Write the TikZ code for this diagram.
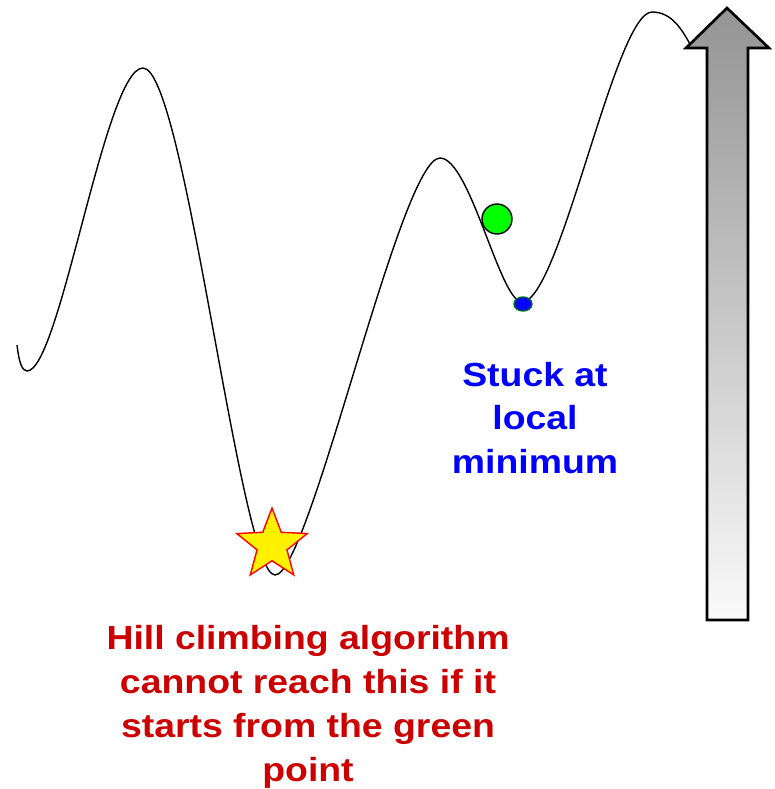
\documentclass[tikz,border=0pt]{standalone}
\usepackage{fontspec}
\newfontfamily\labelfont{Liberation Sans}[FakeStretch=1.12]
\usetikzlibrary{shapes.geometric}
\definecolor{notered}{RGB}{204,0,0}
\definecolor{stuckblue}{RGB}{0,0,255}
\definecolor{ringgreen}{RGB}{0,100,50}

\begin{document}
\begin{tikzpicture} [x = 0.02cm, y = -0.02cm,
	label text/.style = {font = \labelfont\bfseries\fontsize{19}{25}\selectfont, align = center, inner sep = 0pt},
	ball/.style = {circle, draw = black, thick, fill = green, minimum size = 0.6cm, inner sep = 0pt}]
	\useasboundingbox (0,0) rectangle (775,789);
	% the landscape
	\draw[thick] (17,345) .. controls (19,362) and (22,371) .. (27,371)
		.. controls (60,371) and (105,68) .. (143,68)
		.. controls (185,68) and (240,575) .. (275,575)
		.. controls (310,575) and (400,158) .. (440,158)
		.. controls (470,158) and (500,302) .. (522,302)
		.. controls (560,302) and (615,12) .. (652,12)
		.. controls (672,12) and (682,30) .. (690,44);
	%\draw[gray, ->] (0,789) -- (0,0);
	\draw[line width = 1.5pt, top color = black!42, bottom color = black!2]
		(727,8) -- (769,48) -- (748,48) -- (748,620) -- (707,620) -- (707,48) -- (686,48) -- cycle;
	\node[ball] (start) at (497,219) {};
	\node[ellipse, draw = ringgreen, thick, fill = stuckblue, minimum width = 0.36cm, minimum height = 0.28cm, inner sep = 0pt] (stuck) at (523,304) {};
	\node[star, star points = 5, star point ratio = 2.35, draw = red, thick, fill = yellow, minimum size = 1.48cm, inner sep = 0pt] (best) at (272,545) {};
	\node[label text, text = stuckblue] (stucktext) at (535,418) {Stuck at\\local\\minimum};
	\node[label text, text = notered] (note) at (308,707) {Hill climbing algorithm\\cannot reach this if it\\starts from the green\\point};
\end{tikzpicture}
\end{document}
